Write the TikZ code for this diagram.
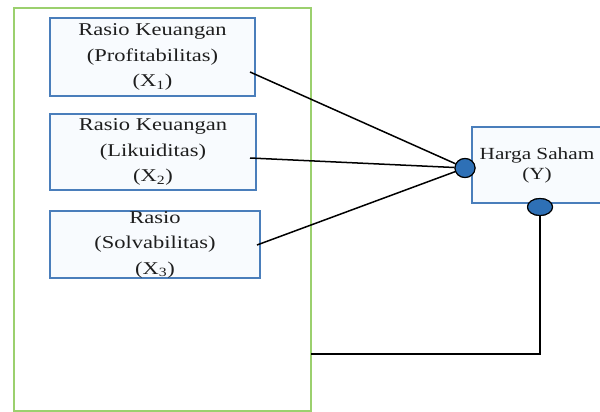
\documentclass[tikz,border=0pt]{standalone}
\usepackage{fontspec}
\setmainfont{Liberation Serif}[FakeStretch=1.25]
\usetikzlibrary{shapes.geometric}
\definecolor{boxblue}{RGB}{74,126,187}
\definecolor{boxfill}{RGB}{248,251,254}
\definecolor{dotblue}{RGB}{46,112,182}
\definecolor{frgreen}{RGB}{155,208,110}
\definecolor{txt}{RGB}{30,30,30}
\tikzset{
  varbox/.style={draw=boxblue, fill=boxfill, line width=1.1pt, align=center, text=txt,
    inner sep=0pt, font=\fontsize{18}{25.5}\selectfont},
  ybox/.style={draw=boxblue, fill=boxfill, line width=1.1pt},
  dot/.style={ellipse, draw=black, fill=dotblue, line width=1.1pt, inner sep=0pt},
  link/.style={draw=black, line width=1.5pt},
  frame/.style={draw=frgreen, line width=1.4pt}
}
\begin{document}
\begin{tikzpicture}[x=1pt,y=-1pt]
\useasboundingbox (0,0) rectangle (600,412);
\clip (0,0) rectangle (600,412);
\draw[frame] (14,8) rectangle (311,411);
\node[varbox, minimum width=205pt, minimum height=78pt] (b1) at (152.5,57) {Rasio Keuangan\\(Profitabilitas)\\(X\textsubscript{1})};
\node[varbox, minimum width=206pt, minimum height=76pt] (b2) at (153,152) {Rasio Keuangan\\(Likuiditas)\\(X\textsubscript{2})};
\node[varbox, minimum width=210pt, minimum height=67pt] (b3) at (155,244.5) {Rasio\\(Solvabilitas)\\(X\textsubscript{3})};
\node[ybox, minimum width=136pt, minimum height=76pt] (y) at (540,165) {};
\node[text=txt, font=\fontsize{17}{20}\selectfont, align=center, inner sep=0pt] (yt) at (537,165) {Harga Saham\\(Y)};
\node[dot, minimum width=20pt, minimum height=19pt] (c1) at (465,168) {};
\node[dot, minimum width=25pt, minimum height=17pt] (c2) at (540,207) {};
\coordinate (s1) at (250,72);
\coordinate (s2) at (250,158);
\coordinate (s3) at (257,245);
\coordinate (e) at (311,354);
\draw[link] (s1) -- (c1);
\draw[link] (s2) -- (c1);
\draw[link] (s3) -- (c1);
\draw[link, line width=2pt] (c2) |- (e);
\node[dot, minimum width=20pt, minimum height=19pt] at (465,168) {};
\node[dot, minimum width=25pt, minimum height=17pt] at (540,207) {};
\end{tikzpicture}
\end{document}
